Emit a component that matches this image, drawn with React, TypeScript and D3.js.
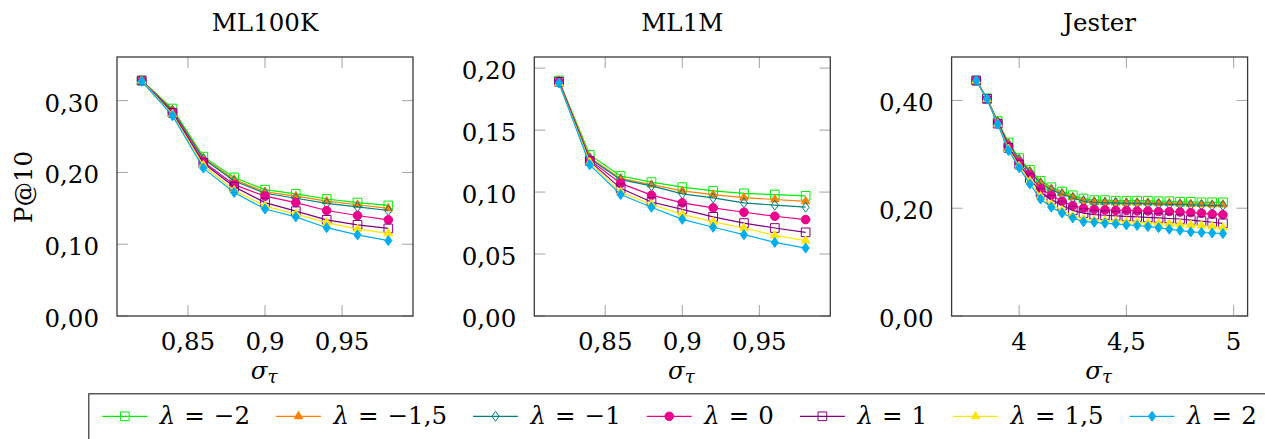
import { useEffect, useRef } from "react";
import * as d3 from "d3";

// lambda values of the seven runs
const lambdaLabels = ["−2", "−1,5", "−1", "0", "1", "1,5", "2"];
const seriesColors = ["#00f000", "#ff8000", "#008080", "#ec008c", "#800080", "#ffe600", "#00aeef"];
const seriesMarks = ["square", "triangle", "diamond", "circle", "square", "triangle", "diamond"];
const seriesFilled = [false, true, false, true, false, true, true];

const panelTitles = ["ML100K", "ML1M", "Jester"];

const ml100kSigma = [0.82, 0.84, 0.86, 0.88, 0.9, 0.92, 0.94, 0.96, 0.98];
const ml100kP10 = [
  [0.328, 0.289, 0.222, 0.193, 0.176, 0.17, 0.163, 0.158, 0.154],
  [0.328, 0.287, 0.22, 0.19, 0.173, 0.167, 0.16, 0.155, 0.15],
  [0.328, 0.286, 0.219, 0.188, 0.171, 0.164, 0.157, 0.152, 0.147],
  [0.328, 0.284, 0.215, 0.183, 0.167, 0.158, 0.147, 0.14, 0.134],
  [0.328, 0.283, 0.213, 0.18, 0.158, 0.146, 0.134, 0.127, 0.122],
  [0.328, 0.281, 0.21, 0.175, 0.153, 0.142, 0.13, 0.121, 0.115],
  [0.327, 0.279, 0.206, 0.172, 0.149, 0.138, 0.123, 0.113, 0.105],
];

const ml1mSigma = [0.82, 0.84, 0.86, 0.88, 0.9, 0.92, 0.94, 0.96, 0.98];
const ml1mP10 = [
  [0.19, 0.13, 0.113, 0.108, 0.104, 0.101, 0.099, 0.098, 0.097],
  [0.19, 0.128, 0.111, 0.106, 0.101, 0.098, 0.0955, 0.094, 0.0925],
  [0.189, 0.127, 0.11, 0.105, 0.0986, 0.0953, 0.0913, 0.0894, 0.0878],
  [0.189, 0.126, 0.107, 0.0975, 0.0913, 0.0873, 0.0837, 0.0805, 0.0778],
  [0.189, 0.125, 0.103, 0.092, 0.086, 0.08, 0.075, 0.071, 0.0675],
  [0.188, 0.124, 0.1, 0.09, 0.082, 0.076, 0.071, 0.065, 0.0608],
  [0.188, 0.122, 0.098, 0.0878, 0.078, 0.0716, 0.0656, 0.0594, 0.0548],
];

const jesterSigma = [
  3.8, 3.85, 3.9, 3.95, 4.0, 4.05, 4.1, 4.15, 4.2, 4.25, 4.3, 4.35,
  4.4, 4.45, 4.5, 4.55, 4.6, 4.65, 4.7, 4.75, 4.8, 4.85, 4.9, 4.95,
];
const jesterP10 = [
  [0.437, 0.404, 0.362, 0.322, 0.293, 0.271, 0.251, 0.239, 0.231, 0.224, 0.218, 0.215,
    0.215, 0.214, 0.214, 0.214, 0.214, 0.213, 0.213, 0.212, 0.212, 0.211, 0.211, 0.211],
  [0.437, 0.403, 0.361, 0.32, 0.291, 0.269, 0.248, 0.236, 0.228, 0.221, 0.215, 0.213,
    0.212, 0.212, 0.211, 0.211, 0.211, 0.21, 0.21, 0.209, 0.208, 0.208, 0.207, 0.207],
  [0.437, 0.403, 0.36, 0.319, 0.29, 0.267, 0.246, 0.234, 0.226, 0.219, 0.213, 0.211,
    0.21, 0.21, 0.209, 0.209, 0.208, 0.208, 0.207, 0.207, 0.206, 0.206, 0.205, 0.205],
  [0.437, 0.403, 0.358, 0.315, 0.285, 0.262, 0.236, 0.224, 0.213, 0.205, 0.2, 0.198,
    0.197, 0.196, 0.196, 0.195, 0.195, 0.194, 0.194, 0.193, 0.192, 0.191, 0.189, 0.188],
  [0.437, 0.403, 0.357, 0.312, 0.281, 0.256, 0.229, 0.216, 0.205, 0.196, 0.191, 0.188,
    0.187, 0.186, 0.185, 0.184, 0.183, 0.182, 0.181, 0.18, 0.178, 0.176, 0.174, 0.172],
  [0.437, 0.403, 0.357, 0.31, 0.278, 0.25, 0.222, 0.207, 0.196, 0.186, 0.18, 0.178,
    0.177, 0.176, 0.175, 0.174, 0.173, 0.172, 0.171, 0.17, 0.169, 0.168, 0.166, 0.164],
  [0.437, 0.403, 0.356, 0.307, 0.275, 0.245, 0.217, 0.202, 0.191, 0.182, 0.175, 0.174,
    0.172, 0.171, 0.169, 0.168, 0.166, 0.164, 0.161, 0.159, 0.156, 0.155, 0.154, 0.153],
];

const xTicks = [[0.85, 0.9, 0.95], [0.85, 0.9, 0.95], [4, 4.5, 5]];
const yTicks = [[0, 0.1, 0.2, 0.3], [0, 0.05, 0.1, 0.15, 0.2], [0, 0.2, 0.4]];

const W = 1265;
const H = 439;
const FONT = "'DejaVu Serif', serif";
const FS = 24.5;

const comma = (s: string) => s.replace(".", ",");

const markPath = (shape: string) => {
  if (shape === "square") return "M-4.35,-4.35h8.7v8.7h-8.7Z";
  if (shape === "diamond") return "M0,-5L3.6,0L0,5L-3.6,0Z";
  if (shape === "triangle") {
    const r = 4.9;
    const c = r * Math.cos(Math.PI / 6);
    return `M0,${-r}L${c},${r / 2}L${-c},${r / 2}Z`;
  }
  return d3.symbol(d3.symbolCircle, Math.PI * 4.3 * 4.3)() as string;
};

const drawMark = (g: any, i: number, x: number, y: number) => {
  g.append("path")
    .attr("d", markPath(seriesMarks[i]))
    .attr("transform", `translate(${x},${y})`)
    .attr("fill", seriesFilled[i] ? seriesColors[i] : "none")
    .attr("stroke", seriesColors[i])
    .attr("stroke-width", 1);
};

const addText = (g: any, x: number, y: number, anchor: string) =>
  g.append("text")
    .attr("x", x)
    .attr("y", y)
    .attr("text-anchor", anchor)
    .attr("font-family", FONT)
    .attr("font-size", FS);

const drawChart = (svgEl: SVGSVGElement) => {
  const svg = d3.select(svgEl);
  svg.selectAll("*").remove();

  const sigmas = [ml100kSigma, ml1mSigma, jesterSigma];
  const values = [ml100kP10, ml1mP10, jesterP10];
  const top = 57;
  const bottom = 316;
  const pw = 296;

  sigmas.forEach((xs, p) => {
    const left = 117 + p * 417.3;
    const [xmin, xmax] = d3.extent(xs) as [number, number];
    const pad = (xmax - xmin) * 0.1;
    const ymax = d3.max(values[p].flat()) as number;
    const x = d3.scaleLinear().domain([xmin - pad, xmax + pad]).range([left, left + pw]);
    const y = d3.scaleLinear().domain([0, ymax * 1.1]).range([bottom, top]);
    const g = svg.append("g");

    // ticks (inward, on all four sides)
    xTicks[p].forEach((t) => {
      g.append("line").attr("x1", x(t)).attr("x2", x(t)).attr("y1", bottom).attr("y2", bottom - 11)
        .attr("stroke", "#aaa").attr("stroke-width", 1.1);
      g.append("line").attr("x1", x(t)).attr("x2", x(t)).attr("y1", top).attr("y2", top + 11)
        .attr("stroke", "#aaa").attr("stroke-width", 1.1);
      addText(g, x(t), 350, "middle").text(comma(String(t)));
    });
    yTicks[p].forEach((t) => {
      g.append("line").attr("x1", left).attr("x2", left + 11).attr("y1", y(t)).attr("y2", y(t))
        .attr("stroke", "#aaa").attr("stroke-width", 1.1);
      g.append("line").attr("x1", left + pw).attr("x2", left + pw - 11).attr("y1", y(t)).attr("y2", y(t))
        .attr("stroke", "#aaa").attr("stroke-width", 1.1);
      addText(g, left - 18, y(t) + 11, "end").text(comma(d3.format(".2f")(t)));
    });

    // series
    const line = d3.line<number>().x((_, k) => x(xs[k])).y((d) => y(d));
    values[p].forEach((vals, i) => {
      g.append("path").attr("d", line(vals)).attr("fill", "none")
        .attr("stroke", seriesColors[i]).attr("stroke-width", 1.2);
      vals.forEach((v, k) => drawMark(g, i, x(xs[k]), y(v)));
    });

    g.append("rect").attr("x", left).attr("y", top).attr("width", pw).attr("height", bottom - top)
      .attr("fill", "none").attr("stroke", "#3a3a3a").attr("stroke-width", 1.3);

    addText(g, left + pw / 2, 31, "middle").text(panelTitles[p]);

    const xl = addText(g, left + pw / 2 - 1, 378.5, "middle").attr("font-size", 18);
    xl.append("tspan").attr("font-style", "italic").attr("font-size", FS).text("σ");
    xl.append("tspan").attr("font-style", "italic").attr("dy", 4).text("τ");
  });

  addText(svg, 0, 0, "middle").attr("x", null).attr("y", null)
    .attr("transform", "translate(32,187) rotate(-90)").text("P@10");

  // legend
  const lg = svg.append("g");
  lg.append("rect").attr("x", 88.8).attr("y", 393.8).attr("width", 1200).attr("height", 60)
    .attr("fill", "white").attr("stroke", "#333").attr("stroke-width", 1.2);
  let cx = 102.3;
  const ly = 416.3;
  lambdaLabels.forEach((lab, i) => {
    lg.append("line").attr("x1", cx).attr("x2", cx + 45).attr("y1", ly).attr("y2", ly)
      .attr("stroke", seriesColors[i]).attr("stroke-width", 1.2);
    drawMark(lg, i, cx + 22.5, ly);
    const t = addText(lg, cx + 57.5, 424, "start");
    t.append("tspan").attr("font-style", "italic").text("λ");
    t.append("tspan").attr("dx", 9).text("=");
    t.append("tspan").attr("dx", 9).text(lab);
    const bb = (t.node() as SVGTextElement).getBBox();
    cx = bb.x + bb.width + 26;
  });
};

const App = () => {
  const svgRef = useRef<SVGSVGElement>(null);

  useEffect(() => {
    if (svgRef.current) drawChart(svgRef.current);
  }, []);

  return (
    <svg
      ref={svgRef}
      width={W}
      height={H}
      style={{ position: "absolute", left: 0, top: 0, display: "block", background: "white" }}
    ></svg>
  );
};

export default App;
